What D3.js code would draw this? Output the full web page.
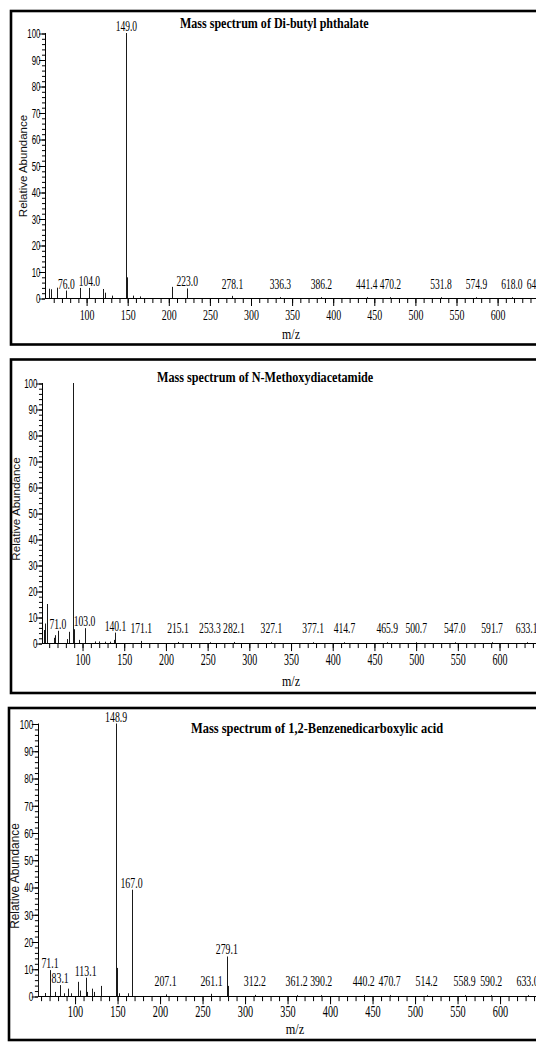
<!DOCTYPE html>
<html>
<head>
<meta charset="utf-8">
<script src="https://cdn.jsdelivr.net/npm/d3@7"></script>
<style>
  html, body { margin: 0; padding: 0; background: #fff; }
  svg { display: block; }
</style>
</head>
<body>
<svg id="chart" width="536" height="1042"></svg>
<script>
// ---- Spectrum 1: Di-butyl phthalate ----
const dbpTitle = "Mass spectrum of Di-butyl phthalate";
const dbpMz = [55, 57, 65, 76.0, 93, 104.0, 121, 123, 132, 149.0, 150, 157, 165, 205, 223.0,
               278.1, 336.3, 386.2, 441.4, 470.2, 531.8, 574.9, 618.0, 649.1];
const dbpAbundance = [3.5, 3.3, 3.9, 2.8, 3.8, 3.8, 3.4, 2.0, 0.9, 100, 7.8, 0.9, 0.6, 4.2, 3.6,
                      0.8, 0.3, 0.3, 0.3, 0.3, 0.3, 0.3, 0.3, 0.3];
const dbpLabeled = [76.0, 104.0, 149.0, 223.0, 278.1, 336.3, 386.2, 441.4, 470.2, 531.8, 574.9, 618.0, 649.1];

// ---- Spectrum 2: N-Methoxydiacetamide ----
const nmdTitle = "Mass spectrum of N-Methoxydiacetamide";
const nmdMz = [54, 56, 58, 66, 68, 71.0, 82, 84, 89.0, 90, 96, 103.0, 115, 120, 127, 133, 138, 140.1,
               171.1, 215.1, 253.3, 282.1, 327.1, 377.1, 414.7, 465.9, 500.7, 547.0, 591.7, 633.1];
const nmdAbundance = [5, 7.5, 15, 2, 3, 4.7, 1.5, 4.3, 100, 5.3, 1.2, 5.7, 0.6, 0.6, 0.5, 0.5, 1.2, 4.0,
                      0.8, 0.4, 0.3, 0.4, 0.3, 0.3, 0.3, 0.3, 0.3, 0.3, 0.3, 0.3];
const nmdLabeled = [71.0, 103.0, 140.1, 171.1, 215.1, 253.3, 282.1, 327.1, 377.1, 414.7, 465.9,
                    500.7, 547.0, 591.7, 633.1];

// ---- Spectrum 3: 1,2-Benzenedicarboxylic acid ----
const bdaTitle = "Mass spectrum of 1,2-Benzenedicarboxylic acid";
const bdaMz = [57, 65, 71.1, 77, 83.1, 88, 92, 96, 104, 106, 113.1, 115, 121, 123, 131, 148.9, 150, 152,
               163, 167.0, 168, 207.1, 261.1, 279.1, 280, 312.2, 361.2, 390.2, 440.2, 470.7, 514.2,
               558.9, 590.2, 633.0];
const bdaAbundance = [8.5, 1.1, 9.5, 1.5, 4.0, 1.0, 2.7, 1.0, 5.2, 2.0, 6.7, 1.5, 2.7, 1.5, 3.7, 100, 10.3, 1.0,
                      1.0, 39, 3.8, 0.6, 0.8, 14.5, 3.7, 0.4, 0.3, 0.3, 0.3, 0.3, 0.3,
                      0.3, 0.3, 0.3];
const bdaLabeled = [71.1, 83.1, 113.1, 148.9, 167.0, 207.1, 261.1, 279.1, 312.2, 361.2, 390.2, 440.2,
                    470.7, 514.2, 558.9, 590.2, 633.0];

// ---- Shared axis ticks ----
const xMajorTicks = d3.range(100, 601, 50);
const xMinorTicks = d3.range(50, 751, 10);
const yMajorTicks = d3.range(0, 101, 10);
const yMinorTicks = d3.range(0, 101, 2);
const xAxisTitle = "m/z";
const yAxisTitle = "Relative Abundance";

// ---- Panel layout ----
const panels = [
  { title: dbpTitle, mz: dbpMz, ab: dbpAbundance, labeled: dbpLabeled,
    frame: { left: 11, top: 11, bottom: 344.5 },
    x0: 45, mzStart: 50, k: 0.822, yBase: 298, yTop: 33, s: 1,
    titleX: 180, titleY: 28, yTitle: [23, 166], xTitle: [291, 339], tickBase: 320 },
  { title: nmdTitle, mz: nmdMz, ab: nmdAbundance, labeled: nmdLabeled,
    frame: { left: 11, top: 359.5, bottom: 693 },
    x0: 42, mzStart: 52, k: 0.834, yBase: 643, yTop: 383, s: 1.01,
    titleX: 157, titleY: 381.5, yTitle: [16, 509], xTitle: [291, 686], tickBase: 665 },
  { title: bdaTitle, mz: bdaMz, ab: bdaAbundance, labeled: bdaLabeled,
    frame: { left: 9, top: 708, bottom: 1040 },
    x0: 38, mzStart: 57, k: 0.85, yBase: 996, yTop: 723.5, s: 1.034,
    titleX: 191, titleY: 733, yTitle: [15, 876], xTitle: [295, 1034], tickBase: 1017 }
];

const SERIF = "'Liberation Serif', 'Times New Roman', serif";
const SANS = "'Liberation Sans', Arial, sans-serif";

const svg = d3.select("#chart");

// horizontally condensed text, as drawn by the instrument software
function condensed(g, x, y, str, o) {
  return g.append("text")
    .attr("transform", `translate(${x},${y}) scale(${o.sx},1)`)
    .attr("text-anchor", o.anchor || "middle")
    .style("font-family", o.family)
    .style("font-size", o.size + "px")
    .style("font-weight", o.weight || "normal")
    .attr("fill", "#000")
    .text(str);
}

panels.forEach(p => {
  const s = p.s;
  const g = svg.append("g");
  const span = 700;
  const x = d3.scaleLinear().domain([p.mzStart, p.mzStart + span]).range([p.x0, p.x0 + span * p.k]);
  const y = d3.scaleLinear().domain([0, 100]).range([p.yBase, p.yTop]);

  // frame
  g.append("rect")
    .attr("x", p.frame.left).attr("y", p.frame.top)
    .attr("width", 620).attr("height", p.frame.bottom - p.frame.top)
    .attr("fill", "none").attr("stroke", "#000").attr("stroke-width", 2.6);

  // x axis: minor and major ticks
  const gxMinor = g.append("g").attr("transform", `translate(0.5,${p.yBase})`)
    .call(d3.axisBottom(x).tickValues(xMinorTicks.filter(v => v > p.mzStart)).tickSize(5 * s).tickFormat(""));
  gxMinor.select(".domain").remove();
  const gxMajor = g.append("g").attr("transform", `translate(0.5,${p.yBase})`)
    .call(d3.axisBottom(x).tickValues(xMajorTicks).tickSize(8 * s).tickFormat(d3.format("d")));
  gxMajor.select(".domain").remove();
  gxMajor.selectAll("text")
    .attr("y", p.tickBase - p.yBase).attr("dy", null)
    .attr("transform", "scale(0.64,1)")
    .style("font-family", SERIF).style("font-size", (15.5 * s) + "px").attr("fill", "#000");
  g.selectAll(".tick line").attr("stroke", "#000");

  g.append("line")
    .attr("x1", p.x0).attr("x2", 640)
    .attr("y1", p.yBase + 0.5).attr("y2", p.yBase + 0.5)
    .attr("stroke", "#000").attr("stroke-width", 1);

  // y axis: minor and major ticks
  const gyMinor = g.append("g").attr("transform", `translate(${p.x0},0.5)`)
    .call(d3.axisLeft(y).tickValues(yMinorTicks).tickSize(3 * s).tickFormat(""));
  gyMinor.select(".domain").remove();
  const labelSx = 0.66;
  const gyMajor = g.append("g").attr("transform", `translate(${p.x0},0.5)`)
    .call(d3.axisLeft(y).tickValues(yMajorTicks).tickSize(6 * s).tickFormat(d3.format("d")));
  gyMajor.select(".domain").remove();
  gyMajor.selectAll("text")
    .attr("x", -(4.5 * s) / labelSx).attr("dy", "0.36em")
    .attr("transform", `scale(${labelSx},1)`)
    .style("font-family", SANS).style("font-size", (12 * s) + "px").attr("fill", "#000");
  g.selectAll(".tick line").attr("stroke", "#000");

  g.append("line")
    .attr("x1", p.x0 + 0.5).attr("x2", p.x0 + 0.5)
    .attr("y1", y(100)).attr("y2", p.yBase + 1)
    .attr("stroke", "#000").attr("stroke-width", 1);

  // peaks
  const peaks = d3.zip(p.mz, p.ab);
  g.append("g").selectAll("line")
    .data(peaks)
    .join("line")
    .attr("x1", d => Math.round(x(d[0])) + 0.5)
    .attr("x2", d => Math.round(x(d[0])) + 0.5)
    .attr("y1", p.yBase)
    .attr("y2", d => y(d[1]))
    .attr("stroke", "#1a1a1a")
    .attr("stroke-width", 1);

  // peak annotations
  const gl = g.append("g");
  p.labeled.forEach(m => {
    const a = p.ab[p.mz.indexOf(m)];
    const base = Math.min(y(a) - 2, p.yBase - 9.5 * s);
    condensed(gl, x(m), base, m.toFixed(1), { sx: 0.68, size: 14 * s, family: SERIF });
  });

  // titles
  condensed(g, p.titleX, p.titleY, p.title,
    { sx: 0.86, size: 14 * s, family: SERIF, weight: "bold", anchor: "start" });
  condensed(g, p.xTitle[0], p.xTitle[1], xAxisTitle, { sx: 0.85, size: 14 * s, family: SERIF });
  g.append("text")
    .attr("transform", `translate(${p.yTitle[0]},${p.yTitle[1]}) rotate(-90)`)
    .attr("text-anchor", "middle")
    .attr("dy", "0.35em")
    .style("font-family", SANS)
    .style("font-size", (11.5 * s) + "px")
    .attr("fill", "#111")
    .text(yAxisTitle);
});
</script>
</body>
</html>
